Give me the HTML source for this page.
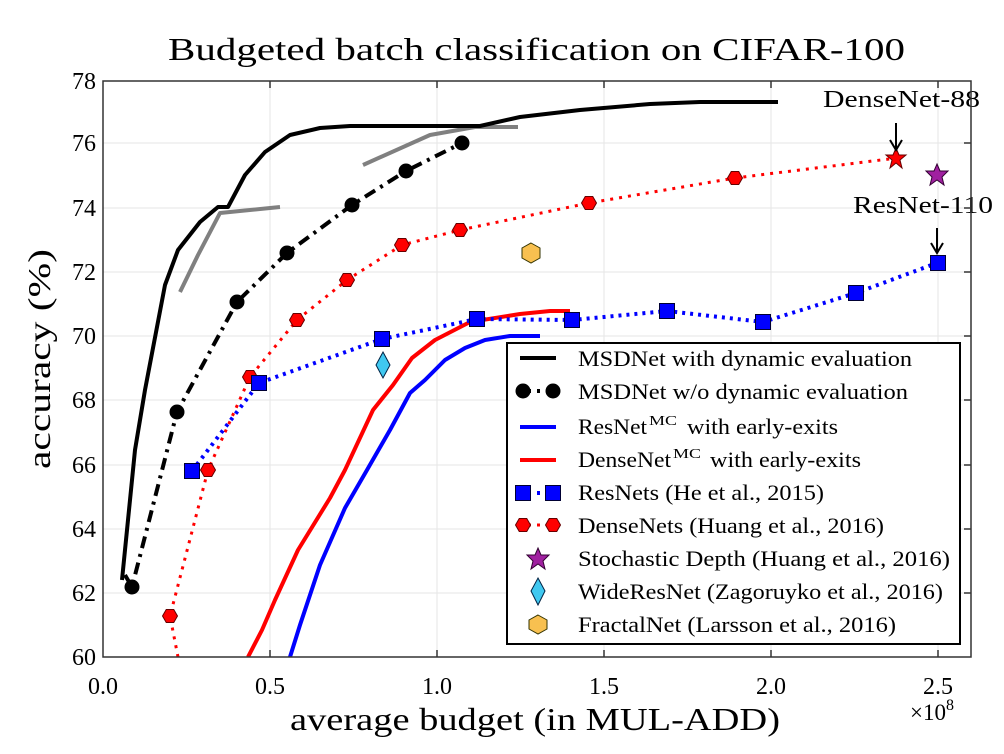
<!DOCTYPE html>
<html><head><meta charset="utf-8"><style>body{margin:0;background:#fff}svg{display:block}text{font-family:"Liberation Serif",serif;fill:#000}</style></head><body>
<svg width="1004" height="754" viewBox="0 0 1004 754" xmlns="http://www.w3.org/2000/svg">
<defs>
<clipPath id="c"><rect x="103" y="81" width="868" height="576"/></clipPath>
<g id="hexr"><polygon points="0,-7.5 6.5,-3.75 6.5,3.75 0,7.5 -6.5,3.75 -6.5,-3.75" transform="rotate(30)" fill="#f00" stroke="#600" stroke-width="1"/></g>
<g id="sq"><rect x="-7.5" y="-7.5" width="15" height="15" fill="#00f" stroke="#003" stroke-width="1"/></g>
</defs>
<g stroke="#e6e6e6" stroke-width="1">
<line x1="270" y1="81" x2="270" y2="657"/><line x1="437" y1="81" x2="437" y2="657"/><line x1="604" y1="81" x2="604" y2="657"/><line x1="771" y1="81" x2="771" y2="657"/><line x1="938" y1="81" x2="938" y2="657"/>
<line x1="103" y1="143" x2="971" y2="143"/><line x1="103" y1="208" x2="971" y2="208"/><line x1="103" y1="272" x2="971" y2="272"/><line x1="103" y1="336" x2="971" y2="336"/><line x1="103" y1="400" x2="971" y2="400"/><line x1="103" y1="465" x2="971" y2="465"/><line x1="103" y1="529" x2="971" y2="529"/><line x1="103" y1="593" x2="971" y2="593"/>
</g>
<g clip-path="url(#c)" fill="none" stroke-linejoin="round">
<polyline points="180,292 198,255 220,213 280,207" stroke="#808080" stroke-width="4"/>
<polyline points="363,165 430,135 475,127 518,127" stroke="#808080" stroke-width="4"/>
<polyline points="122,580 128,520 135,450 145,390 165,285 178,250 200,222 218,207 228,207 245,175 265,152 290,135 320,128 350,126 480,126 520,117 580,110 650,104 700,102 778,102" stroke="#000" stroke-width="4"/>
<polyline points="248,657 262,630 275,600 298,550 330,498 345,470 373,410 393,385 412,358 435,340 470,322 520,314 550,311 570,311" stroke="#f00" stroke-width="4"/>
<polyline points="290,657 300,625 320,565 345,508 367,470 390,430 410,393 425,380 445,360 465,348 485,340 510,336 540,336" stroke="#00f" stroke-width="4"/>
<polyline points="125,575 132,587 177,412 237,302 287,253 352,205 406,171 462,143" stroke="#000" stroke-width="4" stroke-dasharray="12,6,3,6"/>
<polyline points="178,657 170,616 208,470 250,377 297,320 347,280 402,245 460,230 589,203 735,178 897,158" stroke="#f00" stroke-width="3" stroke-dasharray="3,6"/>
<polyline points="192,471 259,383 382,339 477,319 572,320 667,311 763,322 856,293 937,263" stroke="#00f" stroke-width="4" stroke-dasharray="3,5"/>
</g>
<g fill="#000">
<circle cx="132" cy="587" r="7.5"/><circle cx="177" cy="412" r="7.5"/><circle cx="237" cy="302" r="7.5"/><circle cx="287" cy="253" r="7.5"/><circle cx="352" cy="205" r="7.5"/><circle cx="406" cy="171" r="7.5"/><circle cx="462" cy="143" r="7.5"/>
</g>
<use href="#hexr" x="170" y="616"/><use href="#hexr" x="208" y="470"/><use href="#hexr" x="250" y="377"/><use href="#hexr" x="297" y="320"/><use href="#hexr" x="347" y="280"/><use href="#hexr" x="402" y="245"/><use href="#hexr" x="460" y="230"/><use href="#hexr" x="589" y="203"/><use href="#hexr" x="735" y="178"/>
<use href="#sq" x="192" y="471"/><use href="#sq" x="259" y="383"/><use href="#sq" x="382" y="339"/><use href="#sq" x="477" y="319"/><use href="#sq" x="572" y="320"/><use href="#sq" x="667" y="311"/><use href="#sq" x="763" y="322"/><use href="#sq" x="856" y="293"/><use href="#sq" x="938" y="263"/>
<polygon points="896,148 899,155 906,155 900,160 902,168 896,163 890,168 892,160 886,155 893,155" fill="#f00" stroke="#600"/>
<polygon points="937,164 940,171 948,171 942,177 944,185 937,180 930,185 932,177 926,171 934,171" fill="#a020a0" stroke="#303"/>
<polygon points="383,352 390,365 383,378 376,365" fill="#40c8f0" stroke="#024"/>
<polygon points="531,243 540,248 540,258 531,263 522,258 522,248" fill="#f8c050" stroke="#330"/>
<g stroke="#000" stroke-width="2" fill="none"><line x1="896" y1="123" x2="896" y2="150"/><polyline points="890,140 896,150 902,140"/><line x1="937" y1="228" x2="937" y2="253"/><polyline points="931,243 937,253 943,243"/></g>
<text x="823" y="107" font-size="24" textLength="157" lengthAdjust="spacingAndGlyphs">DenseNet-88</text>
<text x="853" y="213" font-size="24" textLength="140" lengthAdjust="spacingAndGlyphs">ResNet-110</text>
<rect x="103" y="81" width="868" height="576" fill="none" stroke="#333" stroke-width="1.5"/>
<g stroke="#333" stroke-width="1.5">
<line x1="270" y1="657" x2="270" y2="650"/><line x1="437" y1="657" x2="437" y2="650"/><line x1="604" y1="657" x2="604" y2="650"/><line x1="771" y1="657" x2="771" y2="650"/><line x1="938" y1="657" x2="938" y2="650"/>
<line x1="270" y1="81" x2="270" y2="88"/><line x1="437" y1="81" x2="437" y2="88"/><line x1="604" y1="81" x2="604" y2="88"/><line x1="771" y1="81" x2="771" y2="88"/><line x1="938" y1="81" x2="938" y2="88"/>
<line x1="964" y1="143" x2="971" y2="143"/><line x1="964" y1="208" x2="971" y2="208"/><line x1="964" y1="272" x2="971" y2="272"/><line x1="964" y1="336" x2="971" y2="336"/><line x1="964" y1="400" x2="971" y2="400"/><line x1="964" y1="465" x2="971" y2="465"/><line x1="964" y1="529" x2="971" y2="529"/><line x1="964" y1="593" x2="971" y2="593"/>
</g>
<g font-size="24" text-anchor="end">
<text x="96" y="89">78</text><text x="96" y="151">76</text><text x="96" y="216">74</text><text x="96" y="280">72</text><text x="96" y="344">70</text><text x="96" y="408">68</text><text x="96" y="473">66</text><text x="96" y="537">64</text><text x="96" y="601">62</text><text x="96" y="665">60</text>
</g>
<g font-size="24" text-anchor="middle">
<text x="103" y="694">0.0</text><text x="270" y="694">0.5</text><text x="437" y="694">1.0</text><text x="604" y="694">1.5</text><text x="771" y="694">2.0</text><text x="938" y="694">2.5</text>
</g>
<text x="910" y="720" font-size="23">×10<tspan font-size="16" dy="-10">8</tspan></text>
<text x="290" y="730" font-size="32" textLength="490" lengthAdjust="spacingAndGlyphs">average budget (in MUL-ADD)</text>
<text x="168" y="60" font-size="32" textLength="737" lengthAdjust="spacingAndGlyphs">Budgeted batch classification on CIFAR-100</text>
<text transform="translate(50,469) rotate(-90)" font-size="32" textLength="220" lengthAdjust="spacingAndGlyphs">accuracy (%)</text>
<rect x="507" y="343" width="453" height="301" fill="#fff" stroke="#000" stroke-width="2"/>
<g stroke-width="4">
<line x1="520" y1="358" x2="556" y2="358" stroke="#000"/>
<line x1="520" y1="427" x2="556" y2="427" stroke="#00f"/>
<line x1="520" y1="460" x2="556" y2="460" stroke="#f00"/>
<line x1="528" y1="391" x2="548" y2="391" stroke="#000" stroke-dasharray="3,6"/>
<line x1="528" y1="493" x2="548" y2="493" stroke="#00f" stroke-dasharray="3,6"/>
<line x1="528" y1="525" x2="548" y2="525" stroke="#f00" stroke-width="3" stroke-dasharray="3,6"/>
</g>
<circle cx="523" cy="391" r="7.5"/><circle cx="553" cy="391" r="7.5"/>
<use href="#sq" x="523" y="493"/><use href="#sq" x="553" y="493"/>
<use href="#hexr" x="523" y="525"/><use href="#hexr" x="553" y="525"/>
<polygon points="538,548 541,555 549,555 543,561 545,569 538,564 531,569 533,561 527,555 535,555" fill="#a020a0" stroke="#303"/>
<polygon points="538,578 545,591 538,605 531,591" fill="#40c8f0" stroke="#024"/>
<polygon points="538,615 547,620 547,629 538,634 529,629 529,620" fill="#f8c050" stroke="#330"/>
<g font-size="22">
<text x="578" y="366" textLength="334" lengthAdjust="spacingAndGlyphs">MSDNet with dynamic evaluation</text>
<text x="578" y="399" textLength="330" lengthAdjust="spacingAndGlyphs">MSDNet w/o dynamic evaluation</text>
<text x="578" y="434" textLength="69" lengthAdjust="spacingAndGlyphs">ResNet</text>
<text x="649" y="425" font-size="14" textLength="28" lengthAdjust="spacingAndGlyphs">MC</text>
<text x="687" y="434" textLength="151" lengthAdjust="spacingAndGlyphs">with early-exits</text>
<text x="578" y="467" textLength="93" lengthAdjust="spacingAndGlyphs">DenseNet</text>
<text x="673" y="458" font-size="14" textLength="28" lengthAdjust="spacingAndGlyphs">MC</text>
<text x="710" y="467" textLength="151" lengthAdjust="spacingAndGlyphs">with early-exits</text>
<text x="578" y="500" textLength="246" lengthAdjust="spacingAndGlyphs">ResNets (He et al., 2015)</text>
<text x="578" y="533" textLength="306" lengthAdjust="spacingAndGlyphs">DenseNets (Huang et al., 2016)</text>
<text x="578" y="566" textLength="372" lengthAdjust="spacingAndGlyphs">Stochastic Depth (Huang et al., 2016)</text>
<text x="578" y="599" textLength="365" lengthAdjust="spacingAndGlyphs">WideResNet (Zagoruyko et al., 2016)</text>
<text x="578" y="632" textLength="318" lengthAdjust="spacingAndGlyphs">FractalNet (Larsson et al., 2016)</text>
</g>
</svg>
</body></html>
